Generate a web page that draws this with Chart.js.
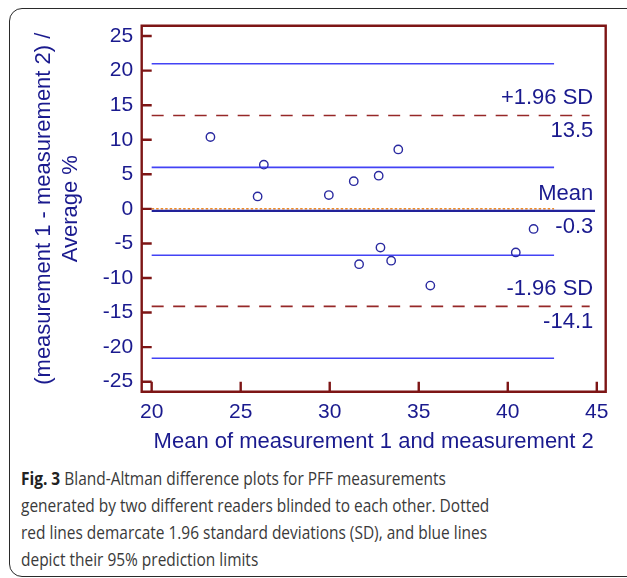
<!DOCTYPE html>
<html><head><meta charset="utf-8">
<script src="https://cdn.jsdelivr.net/npm/chart.js@4.4.1/dist/chart.umd.min.js"></script>
<style>
html,body{margin:0;padding:0;background:#fff;}
#wrap{position:relative;width:627px;height:578px;overflow:hidden;background:#fff;}
#frame{position:absolute;left:9px;top:8px;width:650px;height:569px;border:1.5px solid #2a2a2a;border-radius:13px;box-sizing:border-box;}
#chartBox{position:absolute;left:0;top:0;width:627px;height:455px;}
#caption{position:absolute;left:21px;top:464.3px;width:700px;font-family:"Open Sans",sans-serif;font-size:18.5px;line-height:27px;color:#3a3a3a;white-space:nowrap;transform:scaleX(0.836);transform-origin:0 0;}
#caption b{color:#222;}
</style></head>
<body><div id="wrap"><div id="frame"></div>
<div id="chartBox"><canvas id="c" width="627" height="455"></canvas></div>
<div id="caption"><b>Fig. 3</b> Bland-Altman difference plots for PFF measurements<br>generated by two different readers blinded to each other. Dotted<br>red lines demarcate 1.96 standard deviations (SD), and blue lines<br>depict their 95% prediction limits</div>
</div>
<script>
// ---- data ----
const meanValues = [23.3, 26.3, 25.95, 29.95, 31.35, 32.75, 33.85, 41.45, 32.85, 31.65, 33.45, 35.65, 40.45];
const diffValues = [10.4, 6.4, 1.8, 2.0, 4.0, 4.8, 8.6, -2.9, -5.6, -8.0, -7.5, -11.1, -6.3];
const xTickValues = [20, 25, 30, 35, 40, 45];
const yTickValues = [-25, -20, -15, -10, -5, 0, 5, 10, 15, 20, 25];
const meanDiff = -0.3;
const upperLoA = 13.5;
const lowerLoA = -14.1;
const predictionLimits = [21.0, 6.0, -6.7, -21.6];
const zeroValue = 0;
const lineStartX = 20;
const predictionEndX = 42.6;
const loaEndX = 44.6;
const meanEndX = 44.9;
const labelRightX = 44.8;
const refLabels = [
  {top: '+1.96 SD', bottom: upperLoA.toFixed(1), value: upperLoA},
  {top: 'Mean', bottom: meanDiff.toFixed(1), value: meanDiff},
  {top: '-1.96 SD', bottom: lowerLoA.toFixed(1), value: lowerLoA}
];
const xTitle = 'Mean of measurement 1 and measurement 2';
const yTitle = ['(measurement 1 - measurement 2) /', 'Average %'];

// ---- styles ----
const NAVY = '#1a1a8e';
const MAROON = '#7d1515';
const BLUE = '#4343f5';
const DASHRED = '#962828';
const FONT = '"Liberation Sans", Arial, sans-serif';

function hLine(y, x0, x1, color, width, dash) {
  return {type: 'line', data: [{x: x0, y: y}, {x: x1, y: y}], borderColor: color, borderWidth: width,
    borderDash: dash || [], pointRadius: 0, pointHoverRadius: 0, fill: false, showLine: true, order: 2};
}

const datasets = [];
predictionLimits.forEach(v => datasets.push(hLine(v, lineStartX, predictionEndX, BLUE, 1.6)));
datasets.push(hLine(upperLoA, lineStartX, loaEndX, DASHRED, 1.6, [12, 9.5]));
datasets.push(hLine(lowerLoA, lineStartX, loaEndX, DASHRED, 1.6, [12, 9.5]));
datasets.push(hLine(meanDiff, lineStartX, meanEndX, '#22229a', 2.2));
datasets.push(hLine(zeroValue, lineStartX, predictionEndX, '#f08a24', 1.5, [2.5, 2]));
datasets.push({type: 'scatter', data: meanValues.map((x, i) => ({x: x, y: diffValues[i]})),
  pointStyle: 'circle', pointRadius: 4.2, borderColor: '#2a2aa0', backgroundColor: 'rgba(0,0,0,0)',
  pointBorderWidth: 1.4, showLine: false, order: 1});

const framePlugin = {
  id: 'frame',
  afterDatasetsDraw(chart) {
    const {ctx, chartArea: a, scales: {x, y}} = chart;
    ctx.save();
    ctx.strokeStyle = MAROON;
    ctx.lineWidth = 2.4;
    ctx.beginPath();
    ctx.rect(a.left, a.top, a.right - a.left, a.bottom - a.top);
    ctx.stroke();
    ctx.beginPath();
    yTickValues.forEach(v => { const p = y.getPixelForValue(v); ctx.moveTo(a.left, p); ctx.lineTo(a.left + 10, p); });
    xTickValues.forEach(v => { const p = x.getPixelForValue(v); ctx.moveTo(p, a.bottom); ctx.lineTo(p, a.bottom - 10); });
    ctx.stroke();
    // reference line labels
    ctx.fillStyle = NAVY;
    ctx.font = '22px ' + FONT;
    ctx.textAlign = 'right';
    ctx.textBaseline = 'middle';
    const xr = x.getPixelForValue(labelRightX);
    refLabels.forEach(l => {
      const p = y.getPixelForValue(l.value);
      ctx.fillText(l.top, xr, p - 17.5);
      ctx.fillText(l.bottom, xr, p + 15.5);
    });
    ctx.restore();
  }
};

new Chart(document.getElementById('c'), {
  type: 'scatter',
  data: {datasets: datasets},
  options: {
    responsive: false,
    animation: false,
    layout: {padding: {left: 0, right: 21.3, top: 25.7, bottom: 0}},
    plugins: {legend: {display: false}, tooltip: {enabled: false}},
    scales: {
      x: {
        type: 'linear', min: 19.44, max: 45.5,
        afterBuildTicks: s => { s.ticks = xTickValues.map(v => ({value: v})); },
        afterFit: s => { s.height = 63.3; },
        grid: {display: false, drawTicks: false},
        border: {display: false},
        ticks: {color: NAVY, font: {size: 21, family: FONT}, padding: 7.5, maxRotation: 0, autoSkip: false},
        title: {display: true, text: xTitle, color: NAVY, font: {size: 22, family: FONT}, padding: {top: 0, bottom: 0}}
      },
      y: {
        type: 'linear', min: -26.45, max: 26.5,
        afterBuildTicks: s => { s.ticks = yTickValues.map(v => ({value: v})); },
        afterFit: s => { s.width = 141.7; },
        grid: {display: false, drawTicks: false},
        border: {display: false},
        ticks: {color: NAVY, font: {size: 21, family: FONT}, padding: 8.5, autoSkip: false},
        title: {display: true, text: yTitle, color: NAVY, font: {size: 22, family: FONT, lineHeight: 1.23}, padding: {top: 30, bottom: 0}}
      }
    }
  },
  plugins: [framePlugin]
});
</script>
</body></html>
